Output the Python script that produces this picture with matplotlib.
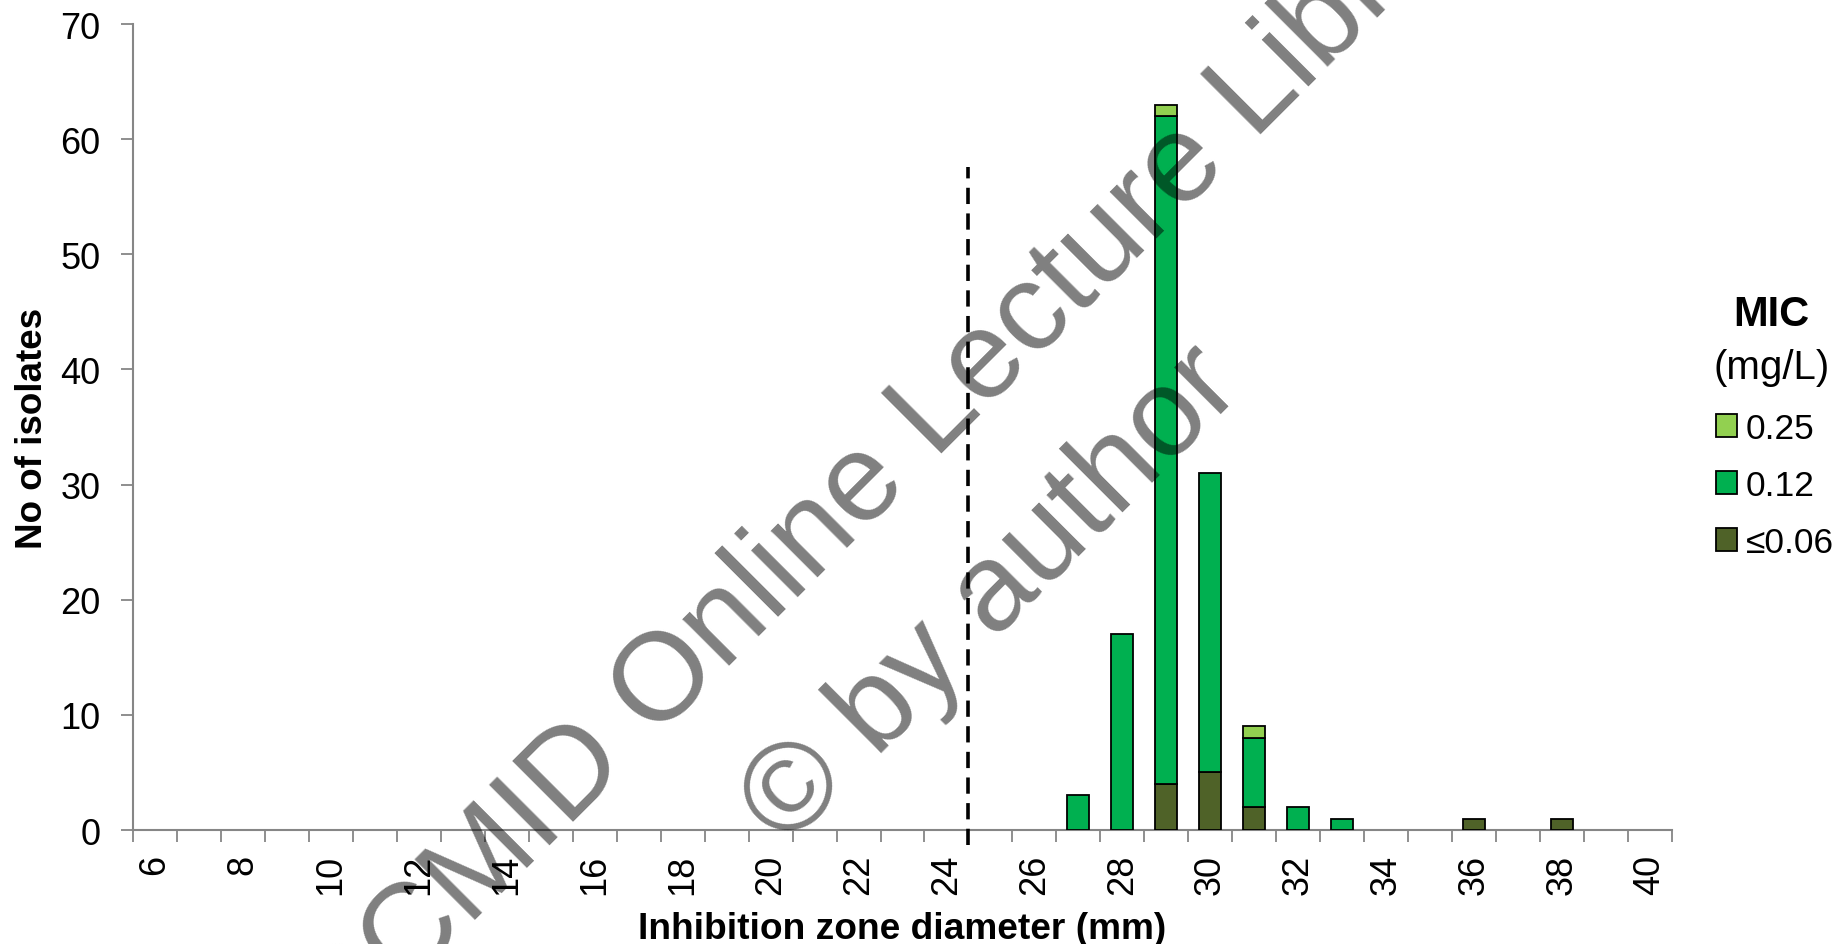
import matplotlib
matplotlib.use("Agg")
import matplotlib.pyplot as plt
from matplotlib.patches import Patch

plt.rcParams['font.family'] = ['Liberation Sans', 'DejaVu Sans']

# inhibition zone diameter categories (mm)
zone_mm = list(range(6, 41))
tick_labels = [str(v) for v in range(6, 41, 2)]

# number of isolates per MIC class (mg/L), one value per zone_mm category
mic_le006 = [0, 0, 0, 0, 0, 0, 0, 0, 0, 0,
             0, 0, 0, 0, 0, 0, 0, 0, 0, 0,
             0, 0, 0, 4, 5, 2, 0, 0, 0, 0,
             1, 0, 1, 0, 0]
mic_012 = [0, 0, 0, 0, 0, 0, 0, 0, 0, 0,
           0, 0, 0, 0, 0, 0, 0, 0, 0, 0,
           0, 3, 17, 58, 26, 6, 2, 1, 0, 0,
           0, 0, 0, 0, 0]
mic_025 = [0, 0, 0, 0, 0, 0, 0, 0, 0, 0,
           0, 0, 0, 0, 0, 0, 0, 0, 0, 0,
           0, 0, 0, 1, 0, 1, 0, 0, 0, 0,
           0, 0, 0, 0, 0]

series_labels = ['\u22640.06', '0.12', '0.25']
series_colors = ['#4F6228', '#00B050', '#92D050']

breakpoint_mm = 24.5
breakpoint_top = 57.6

fig = plt.figure(figsize=(18.49, 9.45), dpi=100)
ax = fig.add_axes([0.0719, 0.1206, 0.8324, 0.8529])

axis_grey = '#868686'

# stacked bars, skip empty segments so no edge lines show at zero
bottom = [0] * len(zone_mm)
handles = {}
for vals, lab, col in zip([mic_le006, mic_012, mic_025], series_labels, series_colors):
    xs = [x for x, v in zip(zone_mm, vals) if v > 0]
    hs = [v for v in vals if v > 0]
    bs = [b for b, v in zip(bottom, vals) if v > 0]
    ax.bar(xs, hs, bottom=bs, width=0.5, color=col, edgecolor='black',
           linewidth=1.3, zorder=3)
    bottom = [b + v for b, v in zip(bottom, vals)]
    handles[lab] = Patch(facecolor=col, edgecolor='black', linewidth=1.3)

# breakpoint line
ax.plot([breakpoint_mm, breakpoint_mm], [-1.3, breakpoint_top], color='black',
        lw=2.6, linestyle=(0, (4.5, 2.6)), clip_on=False, zorder=4)

ax.set_xlim(zone_mm[0] - 0.5, zone_mm[-1] + 0.5)
ax.set_ylim(0, 70)
ax.set_yticks(range(0, 71, 10))

# tick marks at category boundaries, labels at every second category
ax.set_xticks([x - 0.5 for x in zone_mm] + [zone_mm[-1] + 0.5])
ax.set_xticklabels([])
ax.set_xticks(list(range(6, 41, 2)), minor=True)
ax.set_xticklabels(tick_labels, minor=True, rotation=90)
ax.tick_params(axis='x', which='major', length=8.5, width=1.3, color=axis_grey,
               direction='out')
ax.tick_params(axis='x', which='minor', length=0, pad=17, labelsize=26)
ax.tick_params(axis='y', length=8.5, width=1.3, color=axis_grey, pad=15,
               labelsize=26)

for side in ['top', 'right']:
    ax.spines[side].set_visible(False)
for side in ['left', 'bottom']:
    ax.spines[side].set_color(axis_grey)
    ax.spines[side].set_linewidth(1.5)

ax.set_xlabel('Inhibition zone diameter (mm)', fontsize=26.7, fontweight='bold')
ax.xaxis.set_label_coords(0.5, -0.1)
ax.set_ylabel('No of isolates', fontsize=26.5, fontweight='bold')
ax.yaxis.set_label_coords(-0.054, 0.5)

# legend
fig.text(1771 / 1849, 1 - 315 / 945, 'MIC', fontsize=30, fontweight='bold',
         ha='center', va='center')
fig.text(1772 / 1849, 1 - 368 / 945, '(mg/L)', fontsize=29,
         ha='center', va='center')
order = ['0.25', '0.12', '\u22640.06']
leg = fig.legend([handles[k] for k in order], order, loc='upper left',
                 bbox_to_anchor=(1716 / 1849, 1 - 413 / 945), frameon=False,
                 fontsize=25.5, handlelength=0.6, handleheight=0.6,
                 handletextpad=0.25, labelspacing=0.68, borderpad=0,
                 borderaxespad=0)

# watermark
wm = dict(fontsize=90, color='black', alpha=0.5, rotation=45,
          rotation_mode='anchor', ha='center', va='baseline', zorder=20)
fig.text(905 / 1849, 1 - 490 / 945, 'ESCMID Online Lecture Library', **wm)
fig.text(1016 / 1849, 1 - 620 / 945, '\u00a9 by author', **wm)

fig.savefig('out.png', dpi=100)
